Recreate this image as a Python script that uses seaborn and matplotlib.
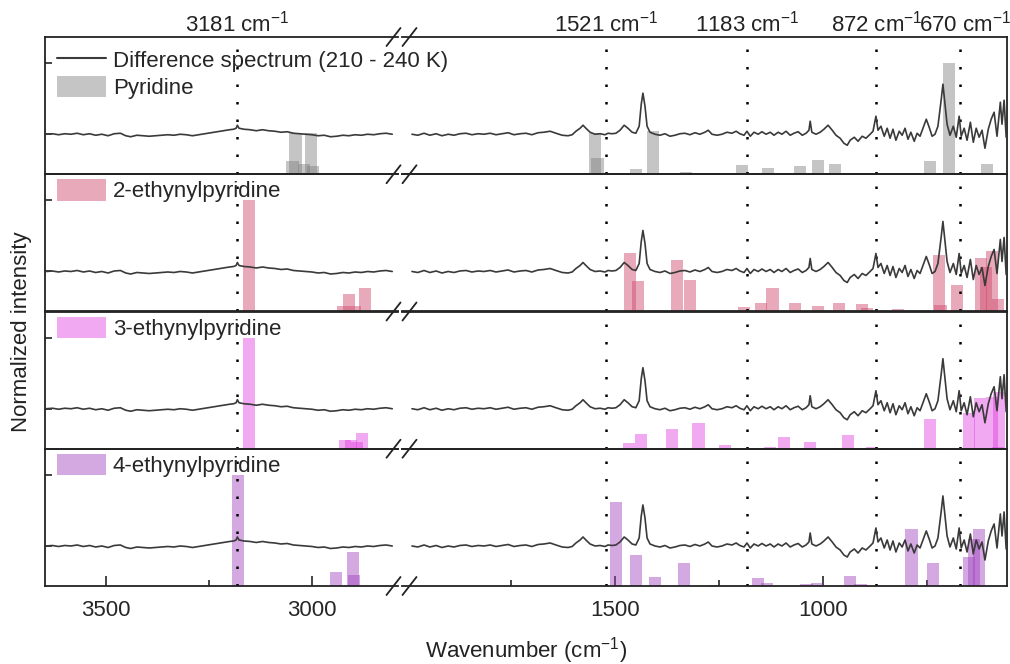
import numpy as np
import pandas as pd
import matplotlib
matplotlib.use("Agg")
import matplotlib.pyplot as plt
from matplotlib.lines import Line2D
from matplotlib.patches import Patch
import seaborn as sns

sns.set_theme(style="ticks")
plt.rcParams['font.family'] = ['Liberation Sans', 'DejaVu Sans']
plt.rcParams['mathtext.fontset'] = 'custom'
plt.rcParams['mathtext.rm'] = 'Liberation Sans'
plt.rcParams['mathtext.default'] = 'regular'

# difference spectrum (210 - 240 K), high wavenumber part: (wavenumber, intensity)
spec_left = [(3645, 0), (3630, 0.5), (3615, -0.5), (3600, 0.5), (3585, 0), (3570, 1), (3555, -0.5),
             (3540, 0.5), (3525, -1), (3510, 0), (3495, -1.5), (3480, 0.5), (3465, 1), (3452, -1.5),
             (3440, -2.5), (3425, -1), (3410, -1.5), (3395, -2), (3380, -1.5), (3365, -1), (3350, -0.5),
             (3335, -1), (3320, 0), (3305, -0.5), (3290, -1.5), (3275, -0.5), (3260, 0.5), (3245, 1.5),
             (3230, 2.5), (3215, 3.5), (3200, 4.5), (3190, 5), (3184, 6), (3181, 9), (3177, 6), (3165, 5),
             (3150, 4.5), (3135, 3.5), (3120, 4.5), (3105, 3.5), (3090, 3), (3075, 2), (3060, 2.5),
             (3045, 1), (3030, 0.5), (3015, 0), (3000, -0.5), (2985, -1.5), (2970, -1), (2955, -2.5),
             (2940, -2), (2925, -1), (2910, -1.5), (2895, -0.5), (2880, -1), (2865, 0), (2850, -0.5),
             (2835, 0.5), (2820, 1), (2805, 0)]

# fingerprint part
spec_right = [(1988, 0), (1974, -1), (1959, 1), (1945, -1), (1930, 0.5), (1916, -1.5), (1901, 0), (1887, -1),
              (1873, 0.5), (1858, 1), (1844, -0.5), (1829, 0.5), (1815, 0), (1800, 1), (1786, -0.5),
              (1772, 0.5), (1757, 1.5), (1743, -0.5), (1728, 0.5), (1714, 1), (1700, -0.5), (1685, 1.5),
              (1671, 2), (1656, 3), (1642, 1), (1627, -1), (1613, -1.5), (1603, -0.5), (1594, 3), (1584, 6),
              (1577, 9), (1570, 6), (1560, 2), (1548, 0), (1536, 0.5), (1524, -0.5), (1517, 1), (1507, 0.5),
              (1498, 1), (1488, 4), (1478, 9), (1469, 6), (1459, 2), (1450, 1), (1442, 8), (1437, 30),
              (1433, 41), (1428, 28), (1423, 8), (1416, 2), (1404, 0), (1392, -1), (1380, 0.5), (1368, -2),
              (1356, -1), (1344, 0.5), (1332, 1), (1320, -0.5), (1308, 1.5), (1296, 0), (1284, 2), (1276, 4),
              (1267, 0), (1255, -1), (1243, 0), (1231, 2), (1219, 1), (1209, 3), (1200, 0.5), (1190, -1),
              (1183, 3), (1175, -2), (1166, 2), (1156, 0), (1147, 2.5), (1137, 0), (1127, 2), (1118, -1),
              (1108, 2), (1099, 0), (1089, 3), (1079, -1), (1070, 1), (1060, 2.5), (1050, -1), (1041, 1),
              (1034, 4), (1031, 13), (1027, 2), (1017, 0), (1007, 2), (998, 5), (988, 9), (978, 4), (969, -1),
              (959, -4), (950, -9), (942, -11), (935, -6), (925, -3), (916, -7), (906, -2), (897, -4),
              (887, 0), (880, 3), (873, 18), (868, 4), (861, 8), (853, -2), (846, 6), (839, -4), (832, 5),
              (825, -6), (817, 3), (810, -1), (803, 6), (796, -5), (789, 2), (781, -7), (774, 1), (767, -2),
              (760, 6), (752, 15), (745, 7), (738, -2), (731, 0), (724, 8), (716, 35), (712, 50), (707, 30),
              (702, 10), (695, -1), (687, 8), (680, -3), (673, 18), (668, -2), (661, 6), (654, -6),
              (646, 12), (639, -8), (632, 6), (625, -3), (618, 4), (611, -14), (603, 5), (596, 15),
              (589, 22), (582, -2), (574, 32), (570, 10), (565, 34), (560, -3)]

# calculated modes, normalized intensities
pyridine_pos = [3047, 3040, 3019, 3002, 2997, 1548, 1542, 1450, 1409, 1329, 1225, 1195, 1132, 1055,
                1012, 971, 925, 743, 697, 665, 606]
pyridine_int = [0.12, 0.37, 0.09, 0.37, 0.07, 0.37, 0.15, 0.05, 0.39, 0.02, 0.01, 0.08, 0.06, 0.07,
                0.13, 0.09, 0.01, 0.12, 1.0, 0.01, 0.09]

eth2_pos = [3153, 2925, 2910, 2895, 2871, 1464, 1445, 1351, 1320, 1190, 1149, 1122, 1067, 1012, 962,
            906, 895, 820, 721, 718, 678, 620, 608, 594, 580]
eth2_int = [1.0, 0.05, 0.16, 0.05, 0.21, 0.53, 0.27, 0.46, 0.28, 0.04, 0.08, 0.21, 0.08, 0.05, 0.08,
            0.07, 0.03, 0.02, 0.51, 0.06, 0.24, 0.48, 0.40, 0.54, 0.11]

eth3_pos = [3153, 2920, 2905, 2890, 2878, 1466, 1437, 1363, 1300, 1236, 1143, 1128, 1094, 1032, 966,
            940, 882, 855, 743, 715, 649, 623, 594, 580, 577]
eth3_int = [1.0, 0.08, 0.08, 0.06, 0.14, 0.05, 0.13, 0.18, 0.23, 0.03, 0.01, 0.02, 0.11, 0.06, 0.01,
            0.12, 0.02, 0.01, 0.27, 0.01, 0.32, 0.46, 0.47, 0.02, 0.51]

eth4_pos = [3180, 2942, 2900, 2898, 1498, 1450, 1404, 1334, 1260, 1156, 1135, 1040, 1015, 935, 910,
            788, 736, 700, 649, 637, 625]
eth4_int = [1.0, 0.13, 0.31, 0.10, 0.76, 0.28, 0.08, 0.21, 0.01, 0.07, 0.03, 0.02, 0.03, 0.09, 0.02,
            0.51, 0.21, 0.01, 0.26, 0.42, 0.51]

names = ["Pyridine", "2-ethynylpyridine", "3-ethynylpyridine", "4-ethynylpyridine"]
colors = ["#808080", "#cc4466", "#e040e0", "#a040c0"]
marked = [3181, 1521, 1183, 872, 670]

panels = [(pyridine_pos, pyridine_int), (eth2_pos, eth2_int), (eth3_pos, eth3_int), (eth4_pos, eth4_int)]

left_df = pd.DataFrame(spec_left, columns=["wn", "val"])
right_df = pd.DataFrame(spec_right, columns=["wn", "val"])
scale = 1 / 111.0
base = 0.36
left_df["y"] = base + left_df["val"] * scale
right_df["y"] = base + right_df["val"] * scale

W, H = 1010, 664
fig = plt.figure(figsize=(W / 100, H / 100), dpi=100)
top, bot = 37, 586
ph = (bot - top) / 4
spec_color = "#3a3a3a"

for i, ((pos, inten), name, col) in enumerate(zip(panels, names, colors)):
    y0 = 1 - (top + (i + 1) * ph) / H
    axL = fig.add_axes([45 / W, y0, 353 / W, ph / H])
    axR = fig.add_axes([402 / W, y0, 605 / W, ph / H])
    axL.set_zorder(3)
    axL.patch.set_alpha(0)
    axR.patch.set_alpha(0)
    axL.set_xlim(3648, 2791)
    axR.set_xlim(2012, 558)
    for ax in (axL, axR):
        ax.set_ylim(0, 1.235)
        ax.bar(pos, inten, width=30, color=col, alpha=0.45, linewidth=0, zorder=1)
        for w in marked:
            ax.axvline(w, color="black", lw=1.8, ls=(0, (1, 6)), zorder=2)
        for s in ax.spines.values():
            s.set_linewidth(1.3)
            s.set_color("#222222")
    sns.lineplot(data=left_df, x="wn", y="y", ax=axL, color=spec_color, lw=1.2, sort=False,
                 estimator=None, zorder=3)
    sns.lineplot(data=right_df, x="wn", y="y", ax=axR, color=spec_color, lw=1.2, sort=False,
                 estimator=None, zorder=3)
    axL.spines["right"].set_visible(False)
    axR.spines["left"].set_visible(False)
    axL.set_yticks([base, 1.0])
    axL.set_yticklabels([])
    axL.tick_params(axis="y", direction="in", length=5, width=1.2)
    axR.set_yticks([])
    for ax in (axL, axR):
        ax.set_xlabel("")
        ax.set_ylabel("")
    if i < 3:
        axL.set_xticks([])
        axR.set_xticks([])
    else:
        axL.set_xticks([3500, 3000])
        axL.set_xticks([3250], minor=True)
        axR.set_xticks([1500, 1000])
        axR.set_xticks([1750, 1250, 750], minor=True)
        for ax in (axL, axR):
            ax.tick_params(axis="x", which="major", direction="in", length=7, width=1.2,
                           labelsize=16, pad=10)
            ax.tick_params(axis="x", which="minor", direction="in", length=4, width=1.2)

    handles = [Patch(facecolor=col, alpha=0.45, linewidth=0, label=name)]
    if i == 0:
        handles = [Line2D([], [], color=spec_color, lw=1.5,
                          label="Difference spectrum (210 - 240 K)")] + handles
        anchor = (0.035, 1 - 12 / ph)
    else:
        anchor = (0.035, 1 - 5 / ph)
    axL.legend(handles=handles, loc="upper left", bbox_to_anchor=anchor, frameon=False,
               fontsize=16, handlelength=2.2, handleheight=1.1, handletextpad=0.3,
               labelspacing=0.15, borderpad=0, borderaxespad=0)

    if i == 0:
        for w in marked:
            axx = axL if w > 2000 else axR
            dx = 5 if w == 670 else 0
            axx.annotate(f"{w} cm$^{{-1}}$", xy=(w, 1), xycoords=("data", "axes fraction"),
                         xytext=(dx * 0.72, 4), textcoords="offset points", ha="center",
                         va="baseline", fontsize=16, color="#222222", annotation_clip=False)

# axis break marks
for k in range(5):
    yb = 1 - (top + k * ph) / H
    for xc in (393.5, 409.5):
        fig.add_artist(Line2D([(xc - 7) / W, (xc + 7) / W], [yb - 9 / H, yb + 9 / H],
                              transform=fig.transFigure, color="#222222", lw=1.3))

fig.text(526 / W, 1 - 657 / H, "Wavenumber (cm$^{-1}$)", ha="center", va="baseline",
         fontsize=16, color="#222222")
fig.text(22 / W, 1 - 332 / H, "Normalized intensity", ha="center", va="center",
         rotation=90, fontsize=16, color="#222222")

fig.savefig("out.png", dpi=100)
